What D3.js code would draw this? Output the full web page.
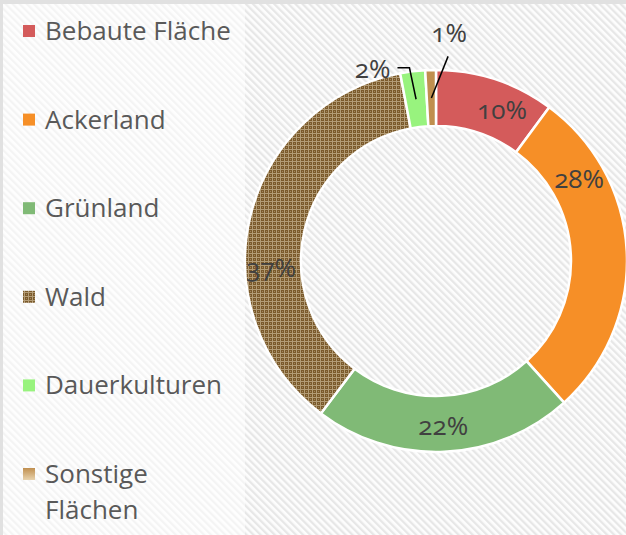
<!DOCTYPE html>
<html><head><meta charset="utf-8">
<script src="https://cdn.jsdelivr.net/npm/d3@7"></script>
<style>body{margin:0;background:#fff}svg{display:block}</style>
</head><body><svg id="c" width="626" height="535"></svg>
<script>
const categories = ["Bebaute Fläche","Ackerland","Grünland","Wald","Dauerkulturen","Sonstige Flächen"];
const legendLines = [["Bebaute Fläche"],["Ackerland"],["Grünland"],["Wald"],["Dauerkulturen"],["Sonstige","Flächen"]];
const values = [10.1, 28.2, 22.0, 36.7, 2.1, 0.9];
const labels = ["10%","28%","22%","37%","2%","1%"];
const colors = ["#d45b5b","#f68f27","#80ba76","url(#wald)","#98f37e","url(#sonst)"];
const legendColors = ["#d45b5b","#f68f27","#80ba76","url(#wald)","#98f37e","url(#sonstL)"];
// label placement: angle shift from slice middle (degrees)
const labelShift = [5.4, -27, 0, -15.5, 0, 0];

const svg = d3.select("#c");
const W = 626, H = 535;
const defs = svg.append("defs");
const bg = defs.append("pattern").attr("id","stripes").attr("patternUnits","userSpaceOnUse")
  .attr("width",5).attr("height",5).attr("patternTransform","rotate(-45)");
bg.append("rect").attr("width",5).attr("height",5).attr("fill","#fdfdfd");
bg.append("rect").attr("width",2.3).attr("height",5).attr("fill","#e7e7e7");

const wald = defs.append("pattern").attr("id","wald").attr("patternUnits","userSpaceOnUse")
  .attr("width",4).attr("height",4);
wald.append("rect").attr("width",4).attr("height",4).attr("fill","#7b5a2b");
wald.append("rect").attr("x",0).attr("y",0).attr("width",4).attr("height",1).attr("fill","#b39c76");
wald.append("rect").attr("x",0).attr("y",0).attr("width",1).attr("height",4).attr("fill","#b39c76");
wald.append("rect").attr("x",2).attr("y",2).attr("width",1).attr("height",1).attr("fill","#a08660");

const sg = defs.append("linearGradient").attr("id","sonst").attr("gradientUnits","userSpaceOnUse")
  .attr("x1",0).attr("y1",70).attr("x2",0).attr("y2",128);
sg.append("stop").attr("offset","0%").attr("stop-color","#c08f4f");
sg.append("stop").attr("offset","100%").attr("stop-color","#e8d3ae");
const sgl = defs.append("linearGradient").attr("id","sonstL").attr("x1",0).attr("y1",0).attr("x2",0).attr("y2",1);
sgl.append("stop").attr("offset","0%").attr("stop-color","#c08f4f");
sgl.append("stop").attr("offset","100%").attr("stop-color","#e8d3ae");

svg.append("rect").attr("width",W).attr("height",H).attr("fill","url(#stripes)");
svg.append("rect").attr("x",3).attr("y",4).attr("width",242).attr("height",H-4).attr("fill","#fff").attr("opacity",0.55);
svg.append("rect").attr("x",0).attr("y",0).attr("width",W).attr("height",4).attr("fill","#e1e1e1");
svg.append("rect").attr("x",0).attr("y",0).attr("width",3).attr("height",H).attr("fill","#e1e1e1");

// Legend
const legendY = d3.scalePoint().domain(categories).range([31, 474]);
const lg = svg.append("g").attr("font-family","'Open Sans', sans-serif").attr("font-size",26).attr("fill","#595959");
categories.forEach((c,i)=>{
  const y = legendY(c);
  lg.append("rect").attr("x",23).attr("y",y-6).attr("width",12).attr("height",12).attr("fill",legendColors[i]);
  const t = lg.append("text").attr("x",45).attr("y",y+9);
  legendLines[i].forEach((ln,j)=>t.append("tspan").attr("x",45).attr("dy",j?36:0).text(ln));
});

// Donut
const cx = 436, cy = 261, rOut = 191, rIn = 135;
const pie = d3.pie().sort(null).value(d=>d);
const arcs = pie(values);
const arc = d3.arc().innerRadius(rIn).outerRadius(rOut);
const g = svg.append("g").attr("transform",`translate(${cx},${cy})`);
g.selectAll("path").data(arcs).join("path").attr("d",arc)
  .attr("fill",(d,i)=>colors[i]).attr("stroke","#fff").attr("stroke-width",2.5);

const pol = (a,r)=>[r*Math.sin(a), -r*Math.cos(a)];
const deg = Math.PI/180;
const lab = g.append("g").attr("font-family","'Open Sans', sans-serif").attr("font-size",26)
  .attr("fill","#404040").style("font-variant-numeric","oldstyle-nums");
arcs.forEach((d,i)=>{
  const mid = (d.startAngle+d.endAngle)/2;
  if (i < 4) {
    const [x,y] = pol(mid + labelShift[i]*deg, 165);
    lab.append("text").attr("x",x).attr("y",y+9).attr("text-anchor","middle").text(labels[i]);
  }
});
// leader-line labels
{
  const d = arcs[4], mid=(d.startAngle+d.endAngle)/2;
  const p0 = pol(mid,163), p1 = pol(mid-0.8*deg,195);
  g.append("path").attr("d",d3.line()([p0,p1,[p1[0]-12,p1[1]]])).attr("fill","none").attr("stroke","#000").attr("stroke-width",1.5);
  lab.append("text").attr("x",p1[0]-19).attr("y",p1[1]+10).attr("text-anchor","end").text(labels[4]);
}
{
  const d = arcs[5], mid=(d.startAngle+d.endAngle)/2;
  const p0 = pol(mid,163), p1 = pol(mid+5*deg,205);
  g.append("path").attr("d",d3.line()([p0,p1])).attr("fill","none").attr("stroke","#000").attr("stroke-width",1.5);
  lab.append("text").attr("x",p1[0]+1).attr("y",p1[1]-14).attr("text-anchor","middle").text(labels[5]);
}
</script></body></html>
